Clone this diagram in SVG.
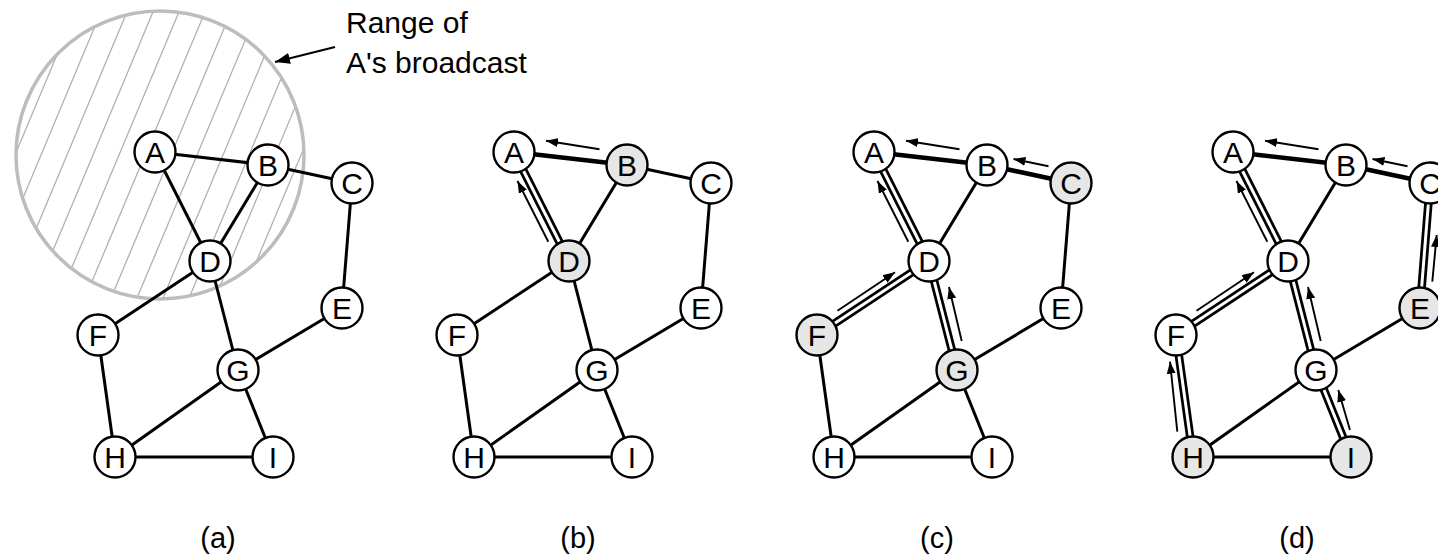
<svg xmlns="http://www.w3.org/2000/svg" width="1438" height="560" viewBox="0 0 1438 560">
<style>
.e{stroke:#000;stroke-width:3;fill:none}
.t{stroke:#000;stroke-width:4.6;fill:none}
.d1{stroke:#000;stroke-width:8.5;fill:none}
.d2{stroke:#fff;stroke-width:3;fill:none}
.ar{stroke:#000;stroke-width:1.9;fill:none;marker-end:url(#ah)}
.n circle{stroke:#000;stroke-width:2.4;fill:#fff}
.s circle{fill:#e6e6e6}
.n text{font-family:"Liberation Sans",Arial,sans-serif;font-size:30px;text-anchor:middle;fill:#000}
.lab{font-family:"Liberation Sans",Arial,sans-serif;font-size:29px;text-anchor:middle;fill:#000}
.note{font-family:"Liberation Sans",Arial,sans-serif;font-size:30px;fill:#000}
.h{stroke:#b0b0b0;stroke-width:1.3}
</style>
<defs>
<marker id="ah" viewBox="0 0 12 9" refX="12" refY="4.5" markerWidth="12" markerHeight="9" orient="auto" markerUnits="userSpaceOnUse"><path d="M0,0 L12,4.5 L0,9 Z" fill="#000"/></marker>
<marker id="ahb" viewBox="0 0 15 11" refX="15" refY="5.5" markerWidth="15" markerHeight="11" orient="auto" markerUnits="userSpaceOnUse"><path d="M0,0 L15,5.5 L0,11 Z" fill="#000"/></marker>
<clipPath id="cc"><circle cx="160" cy="155" r="144"/></clipPath>
</defs>

<!-- range circle in (a) -->
<g id="range">
<g clip-path="url(#cc)">
<line class="h" x1="-102" y1="310" x2="28" y2="0"/>
<line class="h" x1="-76" y1="310" x2="54" y2="0"/>
<line class="h" x1="-50" y1="310" x2="80" y2="0"/>
<line class="h" x1="-24" y1="310" x2="106" y2="0"/>
<line class="h" x1="2" y1="310" x2="132" y2="0"/>
<line class="h" x1="28" y1="310" x2="158" y2="0"/>
<line class="h" x1="54" y1="310" x2="184" y2="0"/>
<line class="h" x1="80" y1="310" x2="210" y2="0"/>
<line class="h" x1="106" y1="310" x2="236" y2="0"/>
<line class="h" x1="132" y1="310" x2="262" y2="0"/>
<line class="h" x1="158" y1="310" x2="288" y2="0"/>
<line class="h" x1="184" y1="310" x2="314" y2="0"/>
<line class="h" x1="210" y1="310" x2="340" y2="0"/>
<line class="h" x1="236" y1="310" x2="366" y2="0"/>
<line class="h" x1="262" y1="310" x2="392" y2="0"/>
<line class="h" x1="288" y1="310" x2="418" y2="0"/>
</g>
<circle cx="160" cy="155" r="144" fill="none" stroke="#bdbdbd" stroke-width="3.5"/>
<line x1="335" y1="47" x2="275" y2="62" stroke="#000" stroke-width="2" marker-end="url(#ahb)"/>
<text class="note" x="346" y="33">Range of</text>
<text class="note" x="346" y="73">A's broadcast</text>
</g>

<!-- connectors -->
<g id="connectors">
 <!-- panel a -->
 <g transform="translate(0,0)">
  <line class="e" x1="155" y1="152" x2="268" y2="165"/>
  <line class="e" x1="155" y1="152" x2="210" y2="261"/>
  <line class="e" x1="268" y1="165" x2="210" y2="261"/>
  <line class="e" x1="268" y1="165" x2="352" y2="183"/>
  <line class="e" x1="352" y1="183" x2="342" y2="308"/>
  <line class="e" x1="210" y1="261" x2="98" y2="335"/>
  <line class="e" x1="210" y1="261" x2="238" y2="370"/>
  <line class="e" x1="342" y1="308" x2="238" y2="370"/>
  <line class="e" x1="98" y1="335" x2="115" y2="457"/>
  <line class="e" x1="238" y1="370" x2="115" y2="457"/>
  <line class="e" x1="238" y1="370" x2="273" y2="457"/>
  <line class="e" x1="115" y1="457" x2="273" y2="457"/>
 </g>
 <!-- panel b -->
 <g transform="translate(359,0)">
  <line class="t" x1="155" y1="152" x2="268" y2="165"/>
  <line class="d1" x1="155" y1="152" x2="210" y2="261"/>
  <line class="d2" x1="155" y1="152" x2="210" y2="261"/>
  <line class="e" x1="268" y1="165" x2="210" y2="261"/>
  <line class="e" x1="268" y1="165" x2="352" y2="183"/>
  <line class="e" x1="352" y1="183" x2="342" y2="308"/>
  <line class="e" x1="210" y1="261" x2="98" y2="335"/>
  <line class="e" x1="210" y1="261" x2="238" y2="370"/>
  <line class="e" x1="342" y1="308" x2="238" y2="370"/>
  <line class="e" x1="98" y1="335" x2="115" y2="457"/>
  <line class="e" x1="238" y1="370" x2="115" y2="457"/>
  <line class="e" x1="238" y1="370" x2="273" y2="457"/>
  <line class="e" x1="115" y1="457" x2="273" y2="457"/>
  <line class="ar" x1="240.5" y1="149.3" x2="187" y2="140.7"/>
  <line class="ar" x1="189.3" y1="241.7" x2="158.5" y2="181"/>
 </g>
 <!-- panel c -->
 <g transform="translate(719,0)">
  <line class="t" x1="155" y1="152" x2="268" y2="165"/>
  <line class="d1" x1="155" y1="152" x2="210" y2="261"/>
  <line class="d2" x1="155" y1="152" x2="210" y2="261"/>
  <line class="e" x1="268" y1="165" x2="210" y2="261"/>
  <line class="t" x1="268" y1="165" x2="352" y2="183"/>
  <line class="e" x1="352" y1="183" x2="342" y2="308"/>
  <line class="d1" x1="210" y1="261" x2="98" y2="335"/>
  <line class="d2" x1="210" y1="261" x2="98" y2="335"/>
  <line class="d1" x1="210" y1="261" x2="238" y2="370"/>
  <line class="d2" x1="210" y1="261" x2="238" y2="370"/>
  <line class="e" x1="342" y1="308" x2="238" y2="370"/>
  <line class="e" x1="98" y1="335" x2="115" y2="457"/>
  <line class="e" x1="238" y1="370" x2="115" y2="457"/>
  <line class="e" x1="238" y1="370" x2="273" y2="457"/>
  <line class="e" x1="115" y1="457" x2="273" y2="457"/>
  <line class="ar" x1="240.5" y1="149.3" x2="187" y2="140.7"/>
  <line class="ar" x1="329.5" y1="166.3" x2="294.5" y2="159"/>
  <line class="ar" x1="189.3" y1="241.7" x2="158.5" y2="181"/>
  <line class="ar" x1="118.5" y1="310.7" x2="176" y2="272.3"/>
  <line class="ar" x1="242.7" y1="341" x2="230" y2="287"/>
 </g>
 <!-- panel d -->
 <g transform="translate(1078,0)">
  <line class="t" x1="155" y1="152" x2="268" y2="165"/>
  <line class="d1" x1="155" y1="152" x2="210" y2="261"/>
  <line class="d2" x1="155" y1="152" x2="210" y2="261"/>
  <line class="e" x1="268" y1="165" x2="210" y2="261"/>
  <line class="t" x1="268" y1="165" x2="352" y2="183"/>
  <line class="d1" x1="352" y1="183" x2="342" y2="308"/>
  <line class="d2" x1="352" y1="183" x2="342" y2="308"/>
  <line class="d1" x1="210" y1="261" x2="98" y2="335"/>
  <line class="d2" x1="210" y1="261" x2="98" y2="335"/>
  <line class="d1" x1="210" y1="261" x2="238" y2="370"/>
  <line class="d2" x1="210" y1="261" x2="238" y2="370"/>
  <line class="e" x1="342" y1="308" x2="238" y2="370"/>
  <line class="d1" x1="98" y1="335" x2="115" y2="457"/>
  <line class="d2" x1="98" y1="335" x2="115" y2="457"/>
  <line class="e" x1="238" y1="370" x2="115" y2="457"/>
  <line class="d1" x1="238" y1="370" x2="273" y2="457"/>
  <line class="d2" x1="238" y1="370" x2="273" y2="457"/>
  <line class="e" x1="115" y1="457" x2="273" y2="457"/>
  <line class="ar" x1="240.5" y1="149.3" x2="187" y2="140.7"/>
  <line class="ar" x1="329.5" y1="166.3" x2="294.5" y2="159"/>
  <line class="ar" x1="189.3" y1="241.7" x2="158.5" y2="181"/>
  <line class="ar" x1="118.5" y1="310.7" x2="176" y2="272.3"/>
  <line class="ar" x1="242.7" y1="341" x2="230" y2="287"/>
  <line class="ar" x1="99.3" y1="431.7" x2="92" y2="361.7"/>
  <line class="ar" x1="272" y1="430" x2="260.3" y2="390"/>
  <line class="ar" x1="354.3" y1="281.7" x2="358.7" y2="235"/>
 </g>
</g>

<!-- nodes panel a -->
<g id="a-A" class="n"><circle cx="155" cy="152" r="20.5"/><text x="155" y="163">A</text></g>
<g id="a-B" class="n"><circle cx="268" cy="165" r="20.5"/><text x="268" y="176">B</text></g>
<g id="a-C" class="n"><circle cx="352" cy="183" r="20.5"/><text x="352" y="194">C</text></g>
<g id="a-D" class="n"><circle cx="210" cy="261" r="20.5"/><text x="210" y="272">D</text></g>
<g id="a-E" class="n"><circle cx="342" cy="308" r="20.5"/><text x="342" y="319">E</text></g>
<g id="a-F" class="n"><circle cx="98" cy="335" r="20.5"/><text x="98" y="346">F</text></g>
<g id="a-G" class="n"><circle cx="238" cy="370" r="20.5"/><text x="238" y="381">G</text></g>
<g id="a-H" class="n"><circle cx="115" cy="457" r="20.5"/><text x="115" y="468">H</text></g>
<g id="a-I" class="n"><circle cx="273" cy="457" r="20.5"/><text x="273" y="468">I</text></g>

<!-- nodes panel b -->
<g id="b-A" class="n"><circle cx="514" cy="152" r="20.5"/><text x="514" y="163">A</text></g>
<g id="b-B" class="n s"><circle cx="627" cy="165" r="20.5"/><text x="627" y="176">B</text></g>
<g id="b-C" class="n"><circle cx="711" cy="183" r="20.5"/><text x="711" y="194">C</text></g>
<g id="b-D" class="n s"><circle cx="569" cy="261" r="20.5"/><text x="569" y="272">D</text></g>
<g id="b-E" class="n"><circle cx="701" cy="308" r="20.5"/><text x="701" y="319">E</text></g>
<g id="b-F" class="n"><circle cx="457" cy="335" r="20.5"/><text x="457" y="346">F</text></g>
<g id="b-G" class="n"><circle cx="597" cy="370" r="20.5"/><text x="597" y="381">G</text></g>
<g id="b-H" class="n"><circle cx="474" cy="457" r="20.5"/><text x="474" y="468">H</text></g>
<g id="b-I" class="n"><circle cx="632" cy="457" r="20.5"/><text x="632" y="468">I</text></g>

<!-- nodes panel c -->
<g id="c-A" class="n"><circle cx="874" cy="152" r="20.5"/><text x="874" y="163">A</text></g>
<g id="c-B" class="n"><circle cx="987" cy="165" r="20.5"/><text x="987" y="176">B</text></g>
<g id="c-C" class="n s"><circle cx="1071" cy="183" r="20.5"/><text x="1071" y="194">C</text></g>
<g id="c-D" class="n"><circle cx="929" cy="261" r="20.5"/><text x="929" y="272">D</text></g>
<g id="c-E" class="n"><circle cx="1061" cy="308" r="20.5"/><text x="1061" y="319">E</text></g>
<g id="c-F" class="n s"><circle cx="817" cy="335" r="20.5"/><text x="817" y="346">F</text></g>
<g id="c-G" class="n s"><circle cx="957" cy="370" r="20.5"/><text x="957" y="381">G</text></g>
<g id="c-H" class="n"><circle cx="834" cy="457" r="20.5"/><text x="834" y="468">H</text></g>
<g id="c-I" class="n"><circle cx="992" cy="457" r="20.5"/><text x="992" y="468">I</text></g>

<!-- nodes panel d -->
<g id="d-A" class="n"><circle cx="1233" cy="152" r="20.5"/><text x="1233" y="163">A</text></g>
<g id="d-B" class="n"><circle cx="1346" cy="165" r="20.5"/><text x="1346" y="176">B</text></g>
<g id="d-C" class="n"><circle cx="1430" cy="183" r="20.5"/><text x="1430" y="194">C</text></g>
<g id="d-D" class="n"><circle cx="1288" cy="261" r="20.5"/><text x="1288" y="272">D</text></g>
<g id="d-E" class="n s"><circle cx="1420" cy="308" r="20.5"/><text x="1420" y="319">E</text></g>
<g id="d-F" class="n"><circle cx="1176" cy="335" r="20.5"/><text x="1176" y="346">F</text></g>
<g id="d-G" class="n"><circle cx="1316" cy="370" r="20.5"/><text x="1316" y="381">G</text></g>
<g id="d-H" class="n s"><circle cx="1193" cy="457" r="20.5"/><text x="1193" y="468">H</text></g>
<g id="d-I" class="n s"><circle cx="1351" cy="457" r="20.5"/><text x="1351" y="468">I</text></g>

<!-- panel labels -->
<g id="labels">
<text class="lab" x="218" y="548">(a)</text>
<text class="lab" x="578" y="548">(b)</text>
<text class="lab" x="937" y="548">(c)</text>
<text class="lab" x="1297" y="548">(d)</text>
</g>
</svg>
